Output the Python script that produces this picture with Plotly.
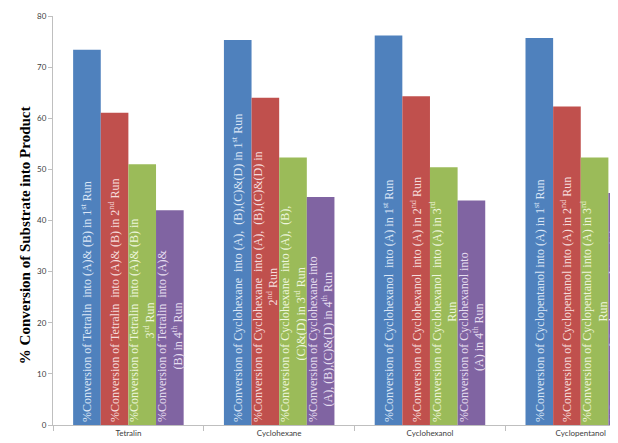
import plotly.graph_objects as go

categories = ["Tetralin", "Cyclohexane", "Cyclohexanol", "Cyclopentanol"]
run_names = ["1st Run", "2nd Run", "3rd Run", "4th Run"]
run1 = [73.4, 75.3, 76.2, 75.7]
run2 = [61.1, 64.0, 64.3, 62.3]
run3 = [51.0, 52.3, 50.4, 52.3]
run4 = [42.0, 44.6, 43.9, 45.4]

labels_run1 = [
    "%Conversion of Tetralin  into (A)& (B) in 1<sup>st</sup> Run",
    "%Conversion of Cyclohexane  into (A),  (B),(C)&(D) in 1<sup>st</sup> Run",
    "%Conversion of Cyclohexanol  into (A) in 1<sup>st</sup> Run",
    "%Conversion of Cyclopentanol into (A) in 1<sup>st</sup> Run",
]
labels_run2 = [
    "%Conversion of Tetralin  into (A)& (B) in 2<sup>nd</sup> Run",
    "%Conversion of Cyclohexane  into (A),  (B),(C)&(D) in<br>2<sup>nd</sup> Run",
    "%Conversion of Cyclohexanol  into (A) in 2<sup>nd</sup> Run",
    "%Conversion of Cyclopentanol into (A) in 2<sup>nd</sup> Run",
]
labels_run3 = [
    "%Conversion of Tetralin  into (A)& (B) in<br>3<sup>rd</sup> Run",
    "%Conversion of Cyclohexane  into (A),  (B),<br>(C)&(D) in 3<sup>rd</sup> Run",
    "%Conversion of Cyclohexanol  into (A) in 3<sup>rd</sup><br>Run",
    "%Conversion of Cyclopentanol into (A) in 3<sup>rd</sup><br>Run",
]
labels_run4 = [
    "%Conversion of Tetralin  into (A)&<br>(B) in 4<sup>th</sup> Run",
    "%Conversion of Cyclohexane into<br>(A), (B),(C)&(D) in 4<sup>th</sup> Run",
    "%Conversion of Cyclohexanol into<br>(A) in 4<sup>th</sup> Run",
    "%Conversion of Cyclopentanol into (A)<br>in 4<sup>th</sup> Run",
]

colors = ["#4f81bd", "#c0504d", "#9bbb59", "#8064a2"]
text_colors = ["#dbe6f6", "#f6dcdc", "#eef6dc", "#e6def0"]

TXT = 12

fig = go.Figure()
for vals, labs, name, c, tc in zip(
    [run1, run2, run3, run4],
    [labels_run1, labels_run2, labels_run3, labels_run4],
    run_names, colors, text_colors,
):
    fig.add_trace(go.Bar(
        x=categories, y=vals, name=name,
        marker=dict(color=c, line=dict(width=0)),
        text=labs, textposition="inside", textangle=-90,
        insidetextanchor="start",
        textfont=dict(family="Liberation Serif", size=TXT, color=tc),
        cliponaxis=True,
    ))

fig.update_layout(
    width=618, height=435,
    margin=dict(l=45, r=0, t=8, b=18),
    barmode="group", bargap=0.267, bargroupgap=0,
    showlegend=False,
    uniformtext=dict(minsize=TXT, mode="show"),
    plot_bgcolor="white", paper_bgcolor="white",
    font=dict(family="Lato", size=8, color="#404040"),
    xaxis=dict(
        range=[-0.5, 3.3], showline=True, linecolor="#bfbfbf", linewidth=1,
        ticks="outside", tickson="boundaries", ticklen=5, tickcolor="#bfbfbf",
        showgrid=False, tickfont=dict(size=8, color="#404040"),
    ),
    yaxis=dict(
        range=[0, 80], dtick=10, showline=True, linecolor="#bfbfbf", linewidth=1,
        ticks="outside", ticklen=4, tickcolor="#bfbfbf", showgrid=False,
        zeroline=False, tickfont=dict(size=8, color="#404040"),
    ),
    annotations=[dict(
        text="<b>% Conversion of Substrate into Product</b>",
        xref="paper", yref="paper", x=-0.049, y=0.464,
        textangle=-90, showarrow=False, xanchor="center", yanchor="middle",
        font=dict(family="Liberation Serif", size=15, color="black"),
    )],
)

fig.write_html("out.html")
